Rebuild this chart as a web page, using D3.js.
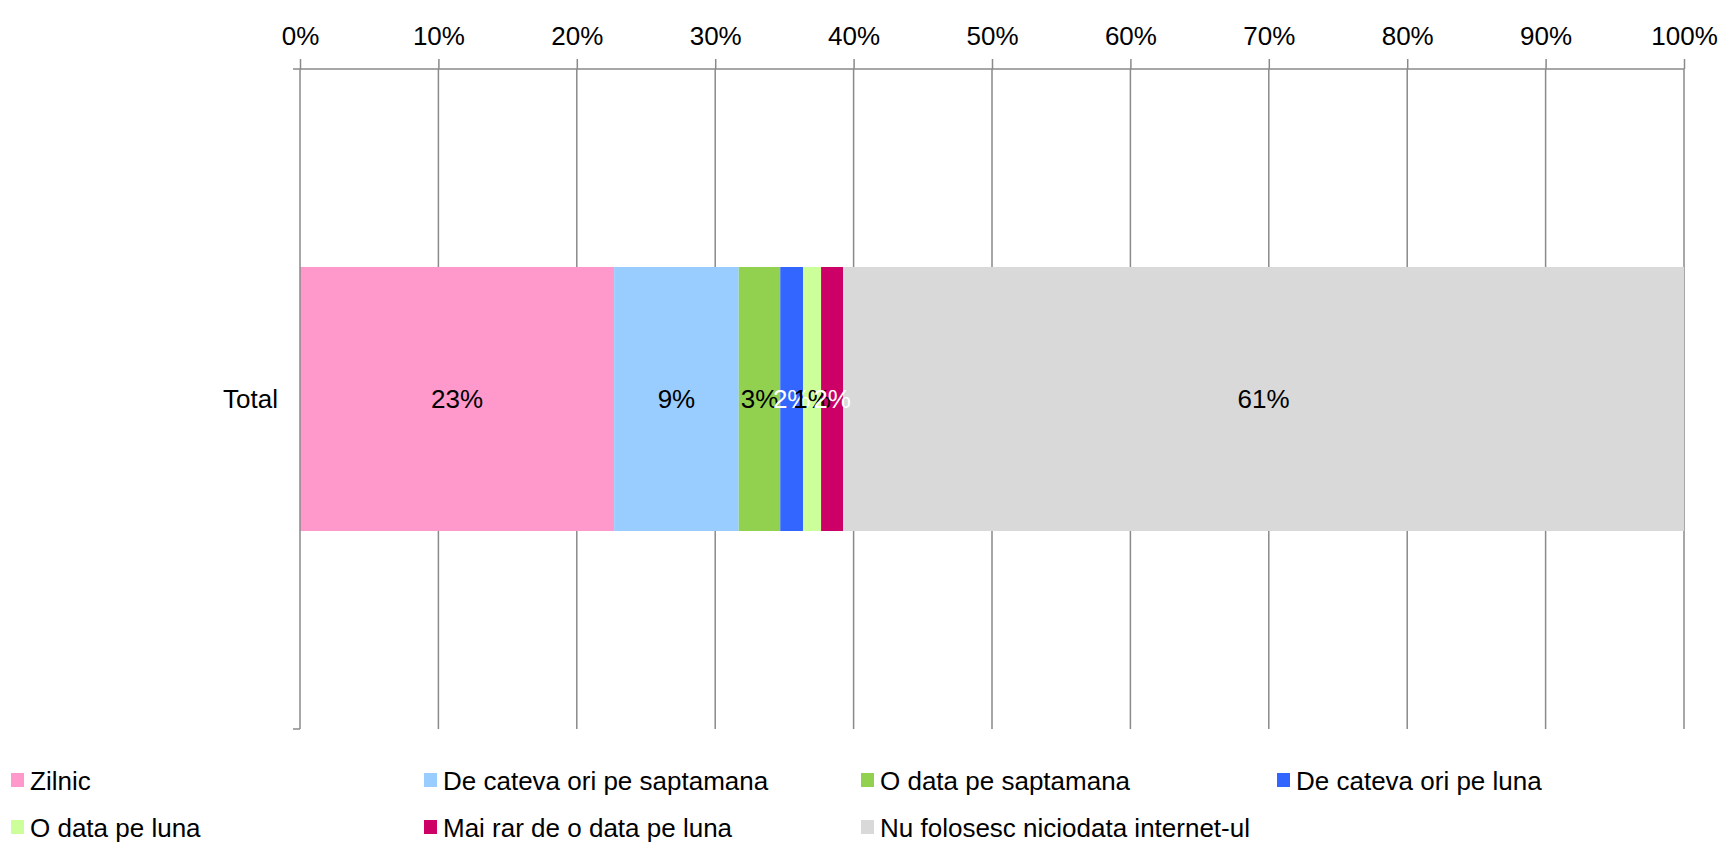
<!DOCTYPE html>
<html>
<head>
<meta charset="utf-8">
<script src="https://cdn.jsdelivr.net/npm/d3@7"></script>
<style>
  html, body { margin: 0; padding: 0; background: #fff; }
  svg { display: block; font-family: "Liberation Sans", Arial, sans-serif; }
</style>
</head>
<body>
<svg id="chart" width="1722" height="843"></svg>
<script>
const categories = ["Total"];
const seriesNames = [
  "Zilnic",
  "De cateva ori pe saptamana",
  "O data pe saptamana",
  "De cateva ori pe luna",
  "O data pe luna",
  "Mai rar de o data pe luna",
  "Nu folosesc niciodata internet-ul"
];
const seriesValues = [22.7, 9.0, 3.0, 1.65, 1.3, 1.6, 60.75];
const valueLabels = ["23%", "9%", "3%", "2%", "1%", "2%", "61%"];
const seriesColors = ["#FF99CC", "#99CCFF", "#92D050", "#3366FF", "#CCFF99", "#CC0066", "#D9D9D9"];
const labelColors = ["#000", "#000", "#000", "#fff", "#000", "#fff", "#000"];
const tickValues = [0, 0.1, 0.2, 0.3, 0.4, 0.5, 0.6, 0.7, 0.8, 0.9, 1.0];

const svg = d3.select("#chart");
const plotLeft = 300, plotRight = 1684, plotTop = 69, plotBottom = 729;
const axisColor = "#8a8a8a";
const fontSize = 26;

const x = d3.scaleLinear().domain([0, 1]).range([plotLeft, plotRight]);
const y = d3.scaleBand().domain(categories).range([plotTop, plotBottom]).padding(0.4286);

// gridlines
svg.append("g").selectAll("line").data(tickValues.slice(1)).join("line")
  .attr("x1", d => x(d)).attr("x2", d => x(d))
  .attr("y1", plotTop).attr("y2", plotBottom)
  .attr("stroke", axisColor).attr("stroke-width", 1.5);

// stacked segments
const total = d3.sum(seriesValues);
let acc = 0;
const segs = seriesValues.map((v, i) => {
  const s = { start: acc / total, end: (acc + v) / total, i };
  acc += v;
  return s;
});
const cat = categories[0];
svg.append("g").selectAll("rect").data(segs).join("rect")
  .attr("x", d => x(d.start))
  .attr("width", d => x(d.end) - x(d.start))
  .attr("y", y(cat))
  .attr("height", y.bandwidth())
  .attr("fill", d => seriesColors[d.i]);

// data labels
svg.append("g").selectAll("text").data(segs).join("text")
  .attr("x", d => (x(d.start) + x(d.end)) / 2)
  .attr("y", y(cat) + y.bandwidth() / 2)
  .attr("dy", "0.35em")
  .attr("text-anchor", "middle")
  .attr("font-size", fontSize)
  .attr("fill", d => labelColors[d.i])
  .text(d => valueLabels[d.i]);

// top axis
const xAxis = d3.axisTop(x).tickValues(tickValues).tickFormat(d3.format(".0%"))
  .tickSize(10).tickSizeOuter(0).tickPadding(14);
const gx = svg.append("g").attr("transform", `translate(0,${plotTop})`).call(xAxis);
gx.select(".domain").remove();
gx.selectAll(".tick line").attr("stroke", axisColor).attr("stroke-width", 1.5);
gx.selectAll(".tick text").attr("font-size", fontSize).attr("fill", "#000")
  .attr("font-family", "Liberation Sans, Arial, sans-serif");
gx.append("line").attr("x1", plotLeft - 7).attr("x2", plotRight).attr("y1", 0).attr("y2", 0)
  .attr("stroke", axisColor).attr("stroke-width", 1.5);

// left axis
const gy = svg.append("g");
gy.append("line").attr("x1", plotLeft).attr("x2", plotLeft).attr("y1", plotTop).attr("y2", plotBottom)
  .attr("stroke", axisColor).attr("stroke-width", 1.5);
gy.append("line").attr("x1", plotLeft - 7).attr("x2", plotLeft).attr("y1", plotBottom).attr("y2", plotBottom)
  .attr("stroke", axisColor).attr("stroke-width", 1.5);
gy.selectAll("text.cat").data(categories).join("text").attr("class", "cat")
  .attr("x", plotLeft - 22)
  .attr("y", d => y(d) + y.bandwidth() / 2)
  .attr("dy", "0.35em")
  .attr("text-anchor", "end")
  .attr("font-size", fontSize)
  .attr("fill", "#000")
  .text(d => d);

// legend
const legendCols = [11, 424, 861, 1277];
const legendRows = [781, 828];
const lg = svg.append("g");
seriesNames.forEach((name, i) => {
  const col = i < 4 ? i : i - 4;
  const row = i < 4 ? 0 : 1;
  const lx = legendCols[col], ly = legendRows[row];
  lg.append("rect").attr("x", lx).attr("y", ly - 8).attr("width", 13).attr("height", 14)
    .attr("fill", seriesColors[i]);
  lg.append("text").attr("x", lx + 19).attr("y", ly).attr("dy", "0.35em")
    .attr("font-size", fontSize).attr("fill", "#000")
    .text(name);
});
</script>
</body>
</html>
